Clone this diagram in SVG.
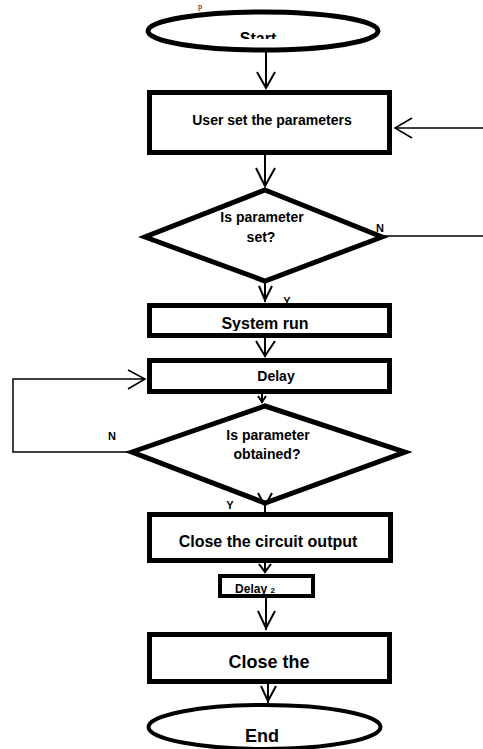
<svg xmlns="http://www.w3.org/2000/svg" width="483" height="749" viewBox="0 0 483 749">
<style>
.box{fill:#fff;stroke:#000;stroke-width:5}
.term{fill:#fff;stroke:#000;stroke-width:5}
.ln{fill:none;stroke:#000;stroke-width:2}
.thin{fill:none;stroke:#000;stroke-width:1.5}
.t{font-family:"Liberation Sans",Arial,sans-serif;font-weight:bold;fill:#000;text-anchor:middle}
</style>
<defs>
<clipPath id="cStart"><rect x="0" y="0" width="483" height="39"/></clipPath>
<clipPath id="cSys"><rect x="0" y="0" width="483" height="331"/></clipPath>
<clipPath id="cD2"><rect x="0" y="0" width="483" height="594"/></clipPath>
</defs>
<text x="198" y="9" font-family="'Liberation Serif',serif" font-size="8" fill="#000">p</text>
<g id="start">
<ellipse class="term" cx="263" cy="31" rx="115" ry="19"/>
<text class="t" x="258" y="44" font-size="16" clip-path="url(#cStart)">Start</text>
</g>
<g id="user-set">
<rect class="box" x="149.5" y="92.5" width="240" height="60"/>
<text class="t" x="272" y="125" font-size="14">User set the parameters</text>
</g>
<g id="decision-set">
<polygon class="box" points="265,190 382,237 265,281 145,237"/>
<text class="t" x="262" y="222" font-size="14">Is parameter</text>
<text class="t" x="261" y="242" font-size="14">set?</text>
<text class="t" x="380" y="232" font-size="11">N</text>
<text class="t" x="287" y="305" font-size="11">Y</text>
</g>
<g id="system-run">
<rect class="box" x="149.5" y="305.5" width="240" height="30"/>
<text class="t" x="265" y="329" font-size="16" clip-path="url(#cSys)">System run</text>
</g>
<g id="delay">
<rect class="box" x="149.5" y="360.5" width="240" height="31"/>
<text class="t" x="276" y="381" font-size="14">Delay</text>
</g>
<g id="decision-obtained">
<polygon class="box" points="265,406 405,452 265,503 132,452"/>
<text class="t" x="268" y="440" font-size="14">Is parameter</text>
<text class="t" x="267" y="459" font-size="14">obtained?</text>
<text class="t" x="112" y="440" font-size="11">N</text>
<text class="t" x="230" y="509" font-size="11">Y</text>
</g>
<g id="close-output">
<rect class="box" x="149.5" y="514.5" width="241" height="46"/>
<text class="t" x="268" y="547" font-size="16">Close the circuit output</text>
</g>
<g id="delay2">
<rect class="box" x="220" y="576" width="93" height="20" style="stroke-width:4"/>
<text class="t" x="255" y="593" font-size="12" clip-path="url(#cD2)">Delay <tspan font-size="8">2</tspan></text>
</g>
<g id="close-the">
<rect class="box" x="149.5" y="634.5" width="240" height="47"/>
<text class="t" x="269" y="668" font-size="18">Close the</text>
</g>
<g id="end">
<ellipse class="term" cx="264.5" cy="727" rx="116" ry="22" style="stroke-width:4"/>
<text class="t" x="262" y="742" font-size="18">End</text>
</g>
<g id="connectors">
<path class="ln" d="M266 52V88M257 72L266 88L275 72"/>
<path class="thin" d="M483 128H395M412 118L395 128L412 138"/>
<path class="ln" d="M265 155V186M256 168L265 186L275 168"/>
<path class="thin" d="M384 236H483"/>
<path class="ln" d="M265 283V302M259 286L265 300L272 286"/>
<path class="ln" d="M265 338V357M256 341L265 356L275 341"/>
<path class="ln" d="M262 394V403M258 396L262 402L266 396"/>
<path class="thin" d="M130 452H13V379H145M128 370L145 379L128 389"/>
<path class="ln" d="M265 505V512M258 493L265 506L272 493"/>
<path class="ln" d="M265 563V573M259 564L265 572L271 564"/>
<path class="ln" d="M266 598V630M258 611L266 628L275 611"/>
<path class="ln" d="M268 684V703M261 686L268 701L276 686"/>
</g>
</svg>
